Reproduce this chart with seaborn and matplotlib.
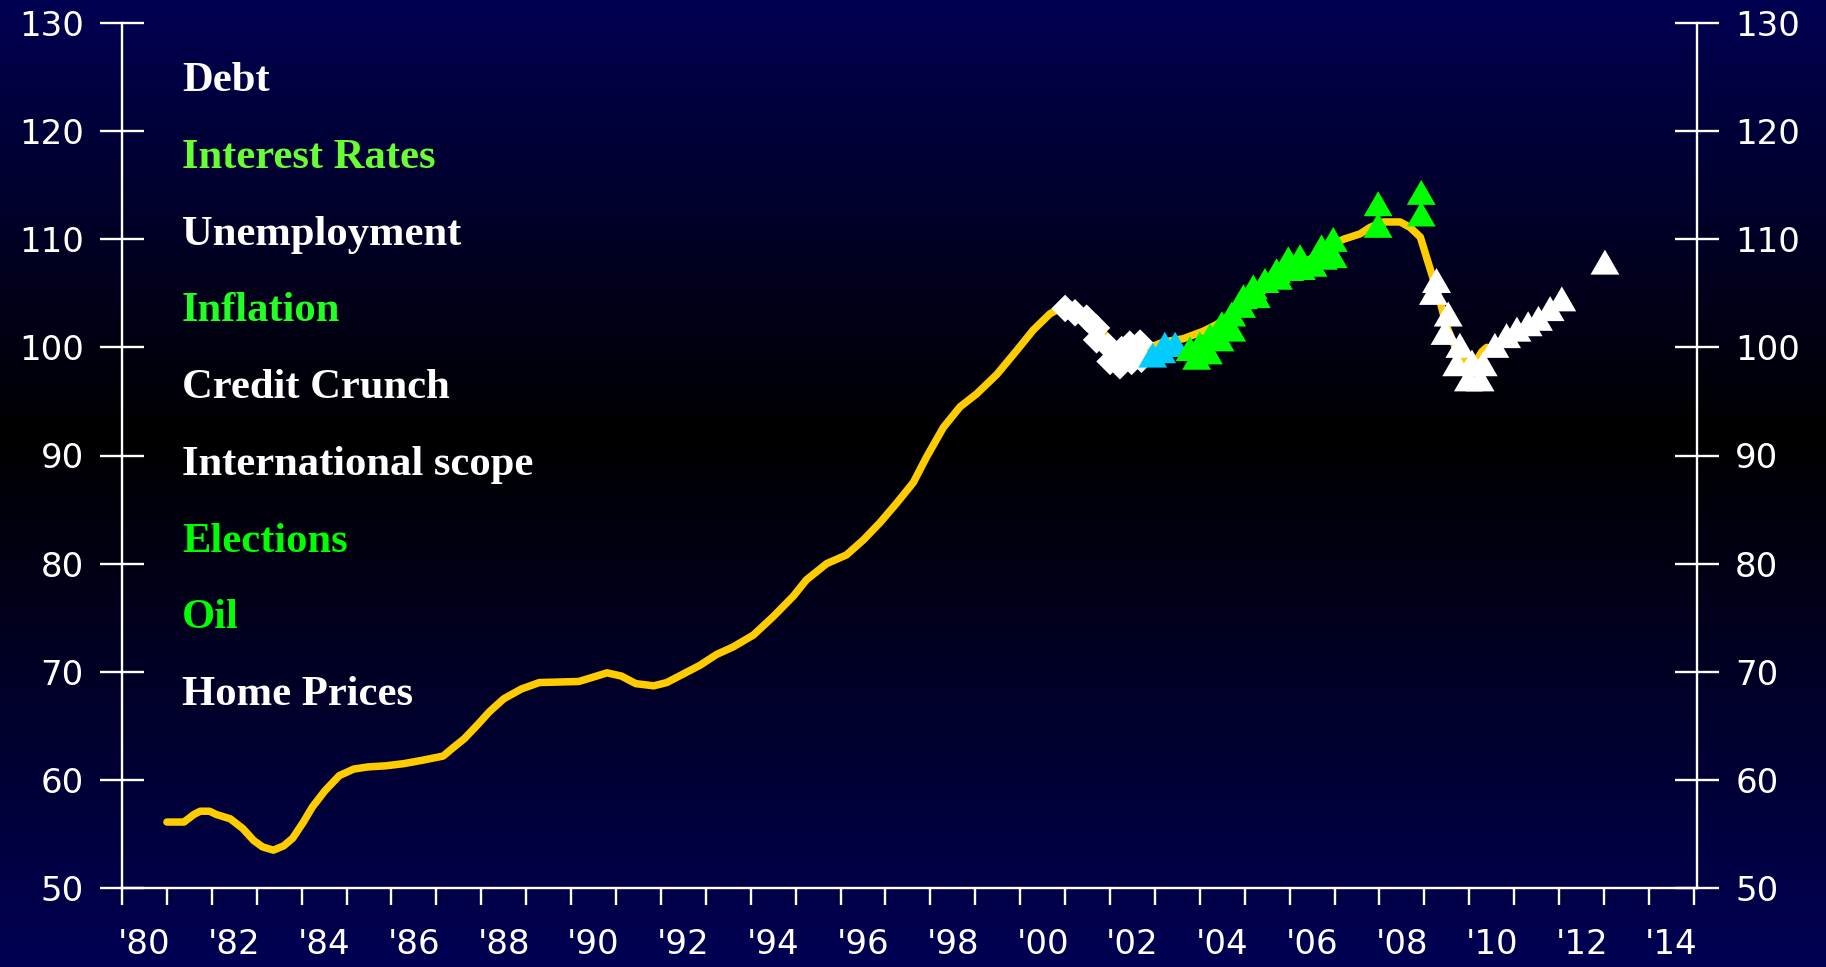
import numpy as np
import matplotlib
matplotlib.use("Agg")
import matplotlib.pyplot as plt
import seaborn as sns

# ---------------- data ----------------
LINE_YEAR = [1981.0, 1981.38, 1981.6, 1981.74, 1981.95, 1982.1, 1982.41, 1982.69, 1982.93, 1983.13,
             1983.37, 1983.6, 1983.8, 1984.04, 1984.24, 1984.52, 1984.84, 1985.16, 1985.48, 1985.87,
             1986.27, 1986.67, 1987.15, 1987.38, 1987.62, 1987.94, 1988.18, 1988.5, 1988.89, 1989.29,
             1990.17, 1990.49, 1990.8, 1991.12, 1991.44, 1991.84, 1992.13, 1992.5, 1992.87, 1993.24,
             1993.61, 1994.06, 1994.5, 1994.95, 1995.24, 1995.69, 1996.13, 1996.51, 1996.88, 1997.25,
             1997.62, 1997.92, 1998.29, 1998.66, 1999.03, 1999.48, 1999.92, 2000.29, 2000.66, 2000.96,
             2001.15, 2001.4, 2001.78, 2002.0, 2002.15, 2002.37, 2002.67, 2002.89, 2003.19, 2003.63,
             2004.08, 2004.37, 2004.75, 2005.12, 2005.49, 2005.86, 2006.23, 2006.6, 2006.97, 2007.2,
             2007.57, 2007.79, 2008.09, 2008.46, 2008.68, 2008.91, 2009.05, 2009.2, 2009.34, 2009.49,
             2009.68, 2009.9, 2010.09, 2010.28, 2010.39]
LINE_VALUE = [56.1, 56.1, 56.8, 57.1, 57.1, 56.8, 56.4, 55.5, 54.4, 53.8,
              53.5, 53.9, 54.6, 56.1, 57.5, 59.0, 60.4, 61.0, 61.2, 61.3,
              61.5, 61.8, 62.2, 63.0, 63.8, 65.2, 66.3, 67.5, 68.4, 69.0,
              69.1, 69.5, 69.9, 69.6, 68.9, 68.7, 69.0, 69.8, 70.6, 71.6,
              72.3, 73.4, 75.1, 77.0, 78.5, 80.0, 80.8, 82.2, 83.8, 85.6,
              87.5, 89.9, 92.6, 94.5, 95.7, 97.5, 99.7, 101.6, 103.1, 103.8,
              103.8, 103.0, 101.8, 100.5, 99.6, 99.0, 99.3, 100.0, 100.5, 100.8,
              101.5, 102.1, 103.3, 104.3, 105.5, 106.7, 107.6, 108.5, 109.5, 110.0,
              110.5, 111.1, 111.6, 111.6, 111.1, 110.2, 108.3, 106.3, 104.4, 102.0,
              100.1, 98.6, 98.3, 99.6, 100.0]

DIAMOND_YEAR = [2001.0, 2001.22, 2001.48, 2001.7, 2001.7, 2001.96, 2002.0, 2002.22, 2002.26,
                2002.44, 2002.67, 2002.48, 2002.7]
DIAMOND_VALUE = [103.6, 103.2, 102.7, 101.8, 100.7, 100.1, 98.7, 98.3, 99.8,
                 100.3, 100.4, 98.7, 98.9]

CYAN_YEAR = [2002.95, 2003.22, 2003.45, 2003.15]
CYAN_VALUE = [98.9, 99.9, 99.9, 99.3]

GREEN_YEAR = [2003.78, 2004.0, 2004.23, 2004.49, 2004.71, 2004.97, 2005.19, 2005.45, 2005.71,
              2005.97, 2006.23, 2006.71, 2006.97,
              2003.93, 2004.19, 2004.45, 2004.71, 2004.93, 2005.26, 2005.75, 2006.0, 2006.26,
              2006.52, 2006.75, 2006.97,
              2007.97, 2007.97, 2008.93, 2008.93]
GREEN_VALUE = [99.5, 99.95, 100.7, 101.8, 102.7, 104.3, 105.2, 105.8, 106.7,
               107.8, 108.0, 108.9, 109.6,
               98.7, 99.2, 100.4, 101.3, 103.5, 104.4, 106.1, 106.9, 107.0,
               107.3, 107.95, 108.1,
               112.9, 110.9, 113.95, 111.95]

WHITE_TRI_YEAR = [2009.27, 2009.2, 2009.53, 2009.46, 2009.79, 2009.72, 2010.06, 2009.98, 2010.24,
                  2010.31, 2010.57, 2010.83, 2011.06, 2011.31, 2011.54, 2011.8, 2012.06, 2013.02]
WHITE_TRI_VALUE = [105.8, 104.7, 102.7, 101.0, 99.8, 98.1, 98.25, 96.7, 96.7,
                   98.1, 99.8, 100.7, 101.3, 101.8, 102.3, 103.2, 104.1, 107.5]

LABELS = ["Debt", "Interest Rates", "Unemployment", "Inflation", "Credit Crunch",
          "International scope", "Elections", "Oil", "Home Prices"]
LABEL_COLORS = ["white", "#66FF33", "white", "#22FF22", "white",
                "white", "#00FF00", "#00FF00", "white"]

Y_TICKS = [50, 60, 70, 80, 90, 100, 110, 120, 130]
X_TICK_YEARS = list(range(1980, 2016))
X_LABEL_YEARS = list(range(1980, 2015, 2))
X_LABELS = ["'%02d" % (y % 100) for y in X_LABEL_YEARS]

# ---------------- figure ----------------
sns.set_style("ticks")
plt.rcParams['font.family'] = ['DejaVu Sans']

W, H, DPI = 1826, 967, 100
fig = plt.figure(figsize=(W / DPI, H / DPI), dpi=DPI)

# background gradient: navy -> black band -> navy
t = np.linspace(0, 1, 967)
mid = 0.45
blue = np.where(t < mid, 82 * (1 - t / mid), 84 * (t - mid) / (1 - mid))
grad = np.zeros((967, 2, 3))
grad[:, :, 2] = (blue / 255.0)[:, None]
bg = fig.add_axes([0, 0, 1, 1], zorder=-10)
bg.imshow(grad, aspect='auto', extent=[0, 1, 0, 1], interpolation='bilinear')
bg.set_axis_off()

left, right, bottom, top = 122 / W, 1697 / W, 1 - 888 / H, 1 - 23 / H
ax = fig.add_axes([left, bottom, right - left, top - bottom])
ax.patch.set_alpha(0)

sns.lineplot(x=LINE_YEAR, y=LINE_VALUE, color="#FFCC00", linewidth=5.4, ax=ax,
             solid_joinstyle='round', solid_capstyle='round', zorder=3)
sns.scatterplot(x=DIAMOND_YEAR, y=DIAMOND_VALUE, marker='D', s=14 ** 2, color='white',
                edgecolor='none', linewidth=0, ax=ax, zorder=4)
tri = (3, 0, 0)
TRI_S = 24 ** 2
sns.scatterplot(x=CYAN_YEAR, y=CYAN_VALUE, marker=tri, s=TRI_S, color='#00CCFF',
                edgecolor='none', linewidth=0, ax=ax, zorder=4)
sns.scatterplot(x=GREEN_YEAR, y=GREEN_VALUE, marker=tri, s=TRI_S, color='#00FF00',
                edgecolor='none', linewidth=0, ax=ax, zorder=5)
sns.scatterplot(x=WHITE_TRI_YEAR, y=WHITE_TRI_VALUE, marker=tri, s=TRI_S, color='white',
                edgecolor='none', linewidth=0, ax=ax, zorder=5)

ax.set_xlim(1980, 2015.07)
ax.set_ylim(50, 130)
ax.set_xlabel("")
ax.set_ylabel("")

for s in ['left', 'right', 'bottom']:
    ax.spines[s].set_color('white')
    ax.spines[s].set_linewidth(1.7)
    ax.spines[s].set_visible(True)
ax.spines['top'].set_visible(False)

ax.set_yticks(Y_TICKS)
ax.set_yticklabels([str(v) for v in Y_TICKS])
ax.tick_params(axis='y', which='major', left=True, right=True, labelleft=True, labelright=True,
               direction='inout', length=31, width=1.7, color='white', labelcolor='white',
               labelsize=24.5, pad=12)

ax.set_xticks(X_TICK_YEARS)
ax.set_xticklabels([])
ax.set_xticks([y + 0.5 for y in X_LABEL_YEARS], minor=True)
ax.set_xticklabels(X_LABELS, minor=True)
ax.tick_params(axis='x', which='major', bottom=True, direction='out', length=12, width=1.7,
               color='white')
ax.tick_params(axis='x', which='minor', bottom=True, length=0, labelcolor='white',
               labelsize=24.5, pad=29)

# text list on the left
x0 = 182 / W
base0, step = 91, 76.75
for i, (lab, col) in enumerate(zip(LABELS, LABEL_COLORS)):
    y = 1 - (base0 + i * step) / H
    fig.text(x0, y, lab, color=col, fontsize=30.7, fontweight='bold',
             family=['Liberation Serif', 'DejaVu Serif'], va='baseline', ha='left')

fig.savefig("out.png", dpi=DPI)
